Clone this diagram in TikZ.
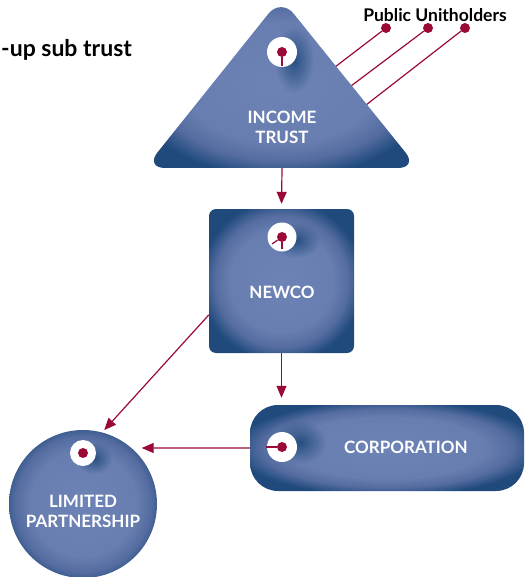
\documentclass[tikz,border=0pt]{standalone}
\usepackage{fontspec}
\setmainfont{Lato}
\usetikzlibrary{arrows.meta,fadings}
\definecolor{trustblue}{RGB}{84,108,160}
\definecolor{darkblue}{RGB}{32,74,124}
\definecolor{lightblue}{RGB}{110,131,181}
\definecolor{linkred}{RGB}{155,10,55}
\tikzfading[name=soft spot, inner color=transparent!0, outer color=transparent!100]
\pgfdeclareradialshading{bevel}{\pgfpoint{0bp}{0bp}}{color(0bp)=(lightblue); color(18bp)=(lightblue!75!trustblue); color(23bp)=(trustblue); color(28bp)=(darkblue); color(50bp)=(darkblue)}

\begin{document}
\begin{tikzpicture}[x=1pt, y=-1pt,
	entity/.style={shade, shading=bevel},
	tag/.style={text=white, font=\bfseries\fontsize{17}{20}\selectfont, align=center, inner sep=0pt},
	hole/.style={circle, fill=white, inner sep=0pt, minimum size=30pt},
	dot/.style={circle, fill=linkred, inner sep=0pt, minimum size=10pt},
	groove/.style={darkblue, path fading=soft spot, opacity=0.9},
	link/.style={draw=linkred, line width=1.2pt},
	flow/.style={link, -{Triangle[length=12pt, width=10pt]}}]
	\useasboundingbox (0,0) rectangle (526,577);

	\node[anchor=west, inner sep=0pt, font=\bfseries\fontsize{23}{26}\selectfont] (subtrust) at (1,50) {-up sub trust};
	\node[inner sep=0pt, font=\bfseries\fontsize{17.5}{20}\selectfont] (public) at (435,15) {Public Unitholders};

	\node[dot] (u1) at (386,28) {};
	\node[dot] (u2) at (428,28) {};
	\node[dot] (u3) at (465,28) {};
	\coordinate (e1) at (335,67);
	\coordinate (e2) at (351,86);
	\coordinate (e3) at (366,105);
	\draw[link] (u1) -- (e1);
	\draw[link] (u2) -- (e2);
	\draw[link] (u3) -- (e3);

	\shade[entity, rounded corners=20pt] (281,-2) -- (418,168) -- (145,168) -- cycle;
	\fill[groove] (294,60) ellipse (20pt and 34pt);
	\node[hole] (trust-hole) at (282,52) {};
	\node[dot] (trust-dot) at (282,52) {};
	\draw[link] (trust-dot) -- (282,66);
	\node[tag] (trust) at (282,127) {INCOME\\TRUST};
	\coordinate (trust-base) at (282,168);

	\node[entity, rectangle, rounded corners=7pt, minimum width=145pt, minimum height=144pt] (newco) at (281.5,281) {};
	\fill[groove] (296,240) ellipse (24pt and 18pt);
	\node[hole, minimum size=29pt] (newco-hole) at (282,237) {};
	\node[dot] (newco-dot) at (282,237) {};
	\draw[link] (newco-dot) -- (282,249);
	\draw[link] (newco-dot) -- (272,244);
	\node[tag] (newco-text) at (282,292) {NEWCO};

	\node[entity, rectangle, rounded corners=28pt, minimum width=274pt, minimum height=86pt] (corp) at (387,448) {};
	\fill[groove] (300,442) ellipse (26pt and 22pt);
	\node[hole] (corp-hole) at (282,447) {};
	\node[dot] (corp-dot) at (282,447) {};
	\draw[link] (corp-dot) -- (266,447);
	\node[tag] (corp-text) at (406,447) {CORPORATION};

	\node[entity, circle, minimum size=148pt] (lp) at (83,504) {};
	\fill[groove] (94,458) ellipse (18pt and 16pt);
	\node[hole, minimum size=26pt] (lp-hole) at (83,453) {};
	\node[dot] (lp-dot) at (83,453) {};
	\node[tag] (lp-text) at (83,511) {LIMITED\\PARTNERSHIP};

	\draw[flow, shorten >=5pt] (trust-base) -- (newco.north);
	\draw[flow, shorten >=7pt] (newco.south) -- (corp.north -| newco.south);
	\draw[flow, shorten >=3pt] (newco.205) -- (lp.75);
	\draw[flow, shorten >=10pt] (corp.west) -- (lp.49);
\end{tikzpicture}
\end{document}
